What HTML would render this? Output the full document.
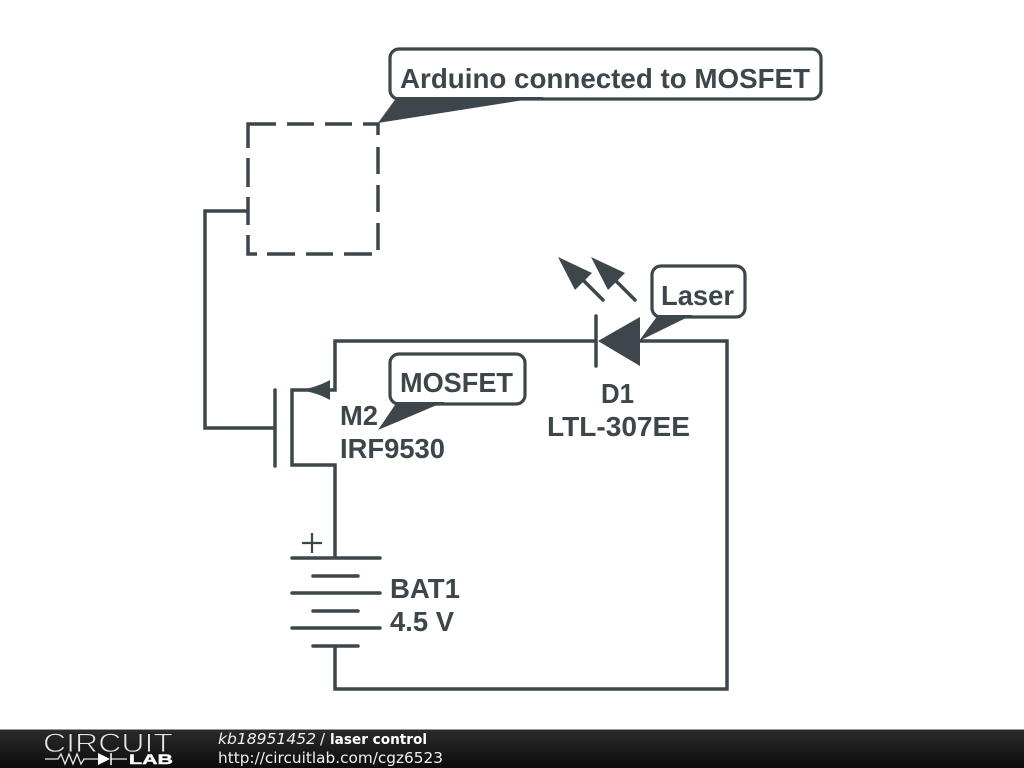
<!DOCTYPE html>
<html><head><meta charset="utf-8"><style>
html,body{margin:0;padding:0;background:#fff;width:1024px;height:768px;overflow:hidden}
svg{display:block}
</style></head><body>
<svg width="1024" height="768" viewBox="0 0 1024 768" xmlns="http://www.w3.org/2000/svg">
<defs><linearGradient id="f" x1="0" y1="0" x2="0" y2="1"><stop offset="0" stop-color="#2b2b2b"/><stop offset="1" stop-color="#0c0c0c"/></linearGradient></defs>
<rect width="1024" height="768" fill="#fff"/>
<g fill="none" stroke="#3d464b" stroke-width="3.5">
<!-- wires -->
<path d="M248 211H205V428H275"/>
<path d="M597 341H335V390H292V465H335V558"/>
<path d="M640 341H727V689H335V646"/>
<!-- dashed box -->
<path d="M248 148V124H276M287 124H314M325 124H352M363 124H378V135M378 147V174M378 185V212M378 223V250M372 254H344M333 254H306M295 254H267M257 254H248V235M248 225V197M248 187V158"/>
</g>
<g fill="none" stroke="#3d464b" stroke-width="3.5" stroke-linecap="round">
<path d="M275 390V466"/>
<path d="M596 316V366"/>
<path d="M603 300L579 276M635 300L611 276"/>
<path d="M292 558H380M313 576H358M292 593H380M313 611H358M292 628H380M313 646H358"/>
</g>
<path d="M302 543H322M312 533V553" fill="none" stroke="#3d464b" stroke-width="2.2"/>
<g fill="#3d464b">
<path d="M598 341L640 317V366Z"/>
<path d="M558 257L592 273 575 290Z"/>
<path d="M591 257L625 273 608 290Z"/>
<path d="M298 390Q316 388 330 380V400Q316 392 298 390Z"/>
<path d="M378 123L397 97H543Z"/>
<path d="M639 341L658 315H692Z"/>
<path d="M378 430L397 402H444Z"/>
</g>
<g fill="#fff" stroke="#3d464b" stroke-width="3.2">
<rect x="390" y="49" width="431" height="50" rx="9"/>
<rect x="652" y="266" width="93" height="51" rx="9"/>
<rect x="390" y="354" width="135" height="50" rx="9"/>
</g>
<path d="M397 100H543V97H397ZM658 318H692V315H658ZM397 405H444V402H397Z" fill="#3d464b"/>
<g font-family="'Liberation Sans',sans-serif" font-weight="700" font-size="28" fill="#3d464b">
<text x="400" y="88" textLength="410" lengthAdjust="spacingAndGlyphs">Arduino connected to MOSFET</text>
<text x="661" y="305" textLength="73" lengthAdjust="spacingAndGlyphs">Laser</text>
<text x="400" y="392" textLength="113" lengthAdjust="spacingAndGlyphs">MOSFET</text>
<text x="340" y="425" textLength="38" lengthAdjust="spacingAndGlyphs">M2</text>
<text x="340" y="458" textLength="105" lengthAdjust="spacingAndGlyphs">IRF9530</text>
<text x="601" y="403" textLength="33" lengthAdjust="spacingAndGlyphs">D1</text>
<text x="547" y="436" textLength="143" lengthAdjust="spacingAndGlyphs">LTL-307EE</text>
<text x="390" y="598" textLength="70" lengthAdjust="spacingAndGlyphs">BAT1</text>
<text x="390" y="631" textLength="64" lengthAdjust="spacingAndGlyphs">4.5 V</text>
</g>
<rect y="730" width="1024" height="38" fill="url(#f)"/>
<rect y="729" width="1024" height="1" fill="#999"/>
<text x="43" y="752" font-family="'Liberation Sans',sans-serif" font-size="27" fill="#e6e6e6" stroke="#1f1f1f" stroke-width="0.9" textLength="130" lengthAdjust="spacingAndGlyphs">CIRCUIT</text>
<path d="M45 759H58L61 754 65 764 69 754 73 764 77 754 81 764 84 759H98M111 759H127" fill="none" stroke="#e8e8e8" stroke-width="1.3"/>
<path d="M98 753L110 759 98 765Z" fill="#fff"/>
<path d="M111 753V765" stroke="#fff" stroke-width="1.5"/>
<text x="129" y="764" font-family="'Liberation Sans',sans-serif" font-weight="700" font-size="14" fill="#fff" stroke="#fff" stroke-width="0.4" textLength="44" lengthAdjust="spacingAndGlyphs">LAB</text>
<g font-family="'DejaVu Sans',sans-serif" fill="#f0f0f0">
<text x="218" y="744" font-size="15" font-style="italic" textLength="98" lengthAdjust="spacingAndGlyphs">kb18951452</text>
<text x="320" y="744" font-size="15">/</text>
<text x="330" y="744" font-size="14.5" font-weight="700" fill="#fff" textLength="97" lengthAdjust="spacingAndGlyphs">laser control</text>
<text x="218" y="763" font-size="15" textLength="225" lengthAdjust="spacingAndGlyphs">http://circuitlab.com/cgz6523</text>
</g>
</svg>
</body></html>
